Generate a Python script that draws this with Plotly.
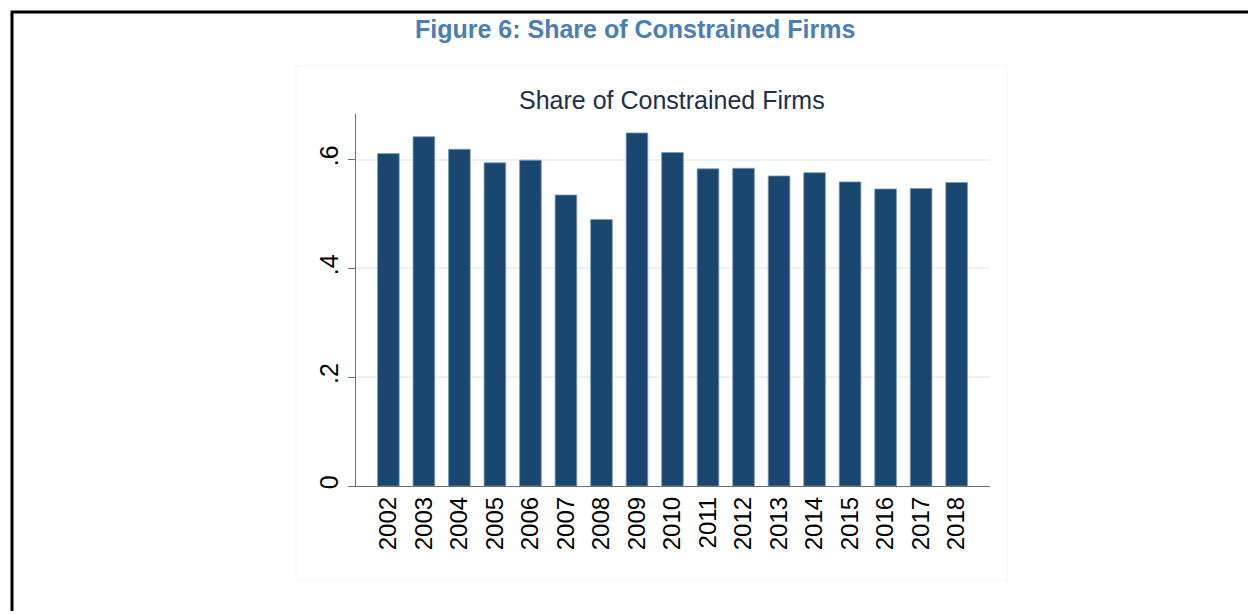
import plotly.graph_objects as go

years = ["2002", "2003", "2004", "2005", "2006", "2007", "2008", "2009", "2010",
         "2011", "2012", "2013", "2014", "2015", "2016", "2017", "2018"]
share = [0.611, 0.642, 0.619, 0.594, 0.599, 0.535, 0.490, 0.649, 0.613,
         0.583, 0.584, 0.570, 0.576, 0.559, 0.546, 0.547, 0.558]
ytick_vals = [0, 0.2, 0.4, 0.6]
ytick_text = ["0", ".2", ".4", ".6"]

W, H = 1248, 614
FONT = "Liberation Sans, Arial, sans-serif"

def px(x):
    return x / W

def py(y):
    return 1 - y / H

fig = go.Figure()
fig.add_trace(go.Bar(
    x=years, y=share,
    marker=dict(color="#1a476f", line=dict(color="#7f9ab3", width=0.8)),
    width=0.61,
    hoverinfo="x+y",
))

fig.update_layout(
    width=W, height=H,
    margin=dict(l=0, r=0, t=0, b=0),
    paper_bgcolor="white", plot_bgcolor="white",
    showlegend=False,
    font=dict(family=FONT, color="#000000"),
    xaxis=dict(
        domain=[px(355.7), px(990)],
        type="category",
        range=[-0.92, 16.94],
        showgrid=False,
        showline=True, linecolor="#6e6e6e", linewidth=1.3,
        ticks="",
        tickangle=-90,
        tickfont=dict(size=24, family=FONT, color="#000000"),
        anchor="y",
    ),
    yaxis=dict(
        domain=[py(488.5), py(115)],
        range=[0, 0.683],
        tickvals=ytick_vals, ticktext=ytick_text,
        tickangle=-90,
        showgrid=True, gridcolor="#eaf2f3", gridwidth=1.5,
        zeroline=False,
        showline=True, linecolor="#6e6e6e", linewidth=1.3,
        ticks="outside", ticklen=7, tickcolor="#6e6e6e", tickwidth=1.3,
        tickfont=dict(size=25, family=FONT, color="#000000"),
        anchor="x",
    ),
    shapes=[
        dict(type="rect", xref="paper", yref="paper",
             x0=px(296), x1=px(1007), y0=py(583), y1=py(66),
             line=dict(color="#f6f6f6", width=1), layer="below"),
        dict(type="line", xref="paper", yref="paper",
             x0=px(11), x1=1, y0=py(12), y1=py(12),
             line=dict(color="black", width=3)),
        dict(type="line", xref="paper", yref="paper",
             x0=px(12), x1=px(12), y0=py(11), y1=0,
             line=dict(color="black", width=3)),
    ],
    annotations=[
        dict(text="<b>Figure 6: Share of Constrained Firms</b>",
             xref="paper", yref="paper", x=px(634.5), y=py(29),
             xanchor="center", yanchor="middle", showarrow=False,
             font=dict(size=25, family=FONT, color="#4a7eb5")),
        dict(text="Share of Constrained Firms",
             xref="paper", yref="paper", x=px(672), y=py(100),
             xanchor="center", yanchor="middle", showarrow=False,
             font=dict(size=25, family=FONT, color="#1e2d4a")),
    ],
)

fig.write_html("out.html",
               config={"displayModeBar": False},
               post_script="document.body.style.margin='0';document.body.style.overflow='hidden';")
